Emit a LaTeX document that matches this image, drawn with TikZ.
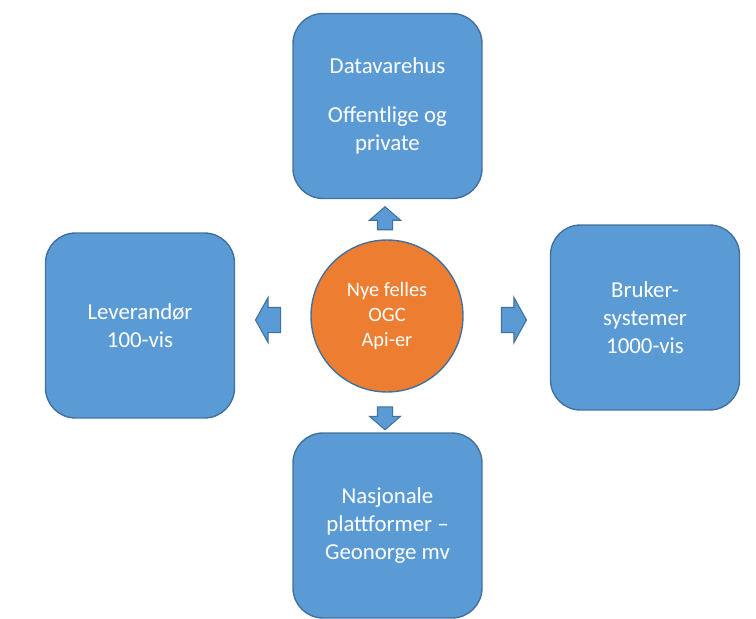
\documentclass[tikz,border=0pt]{standalone}
\usepackage{fontspec}
\setmainfont{Carlito}
\usetikzlibrary{shapes.arrows, positioning}

\definecolor{blaa}{HTML}{5B9BD5}
\definecolor{blaakant}{HTML}{41719C}
\definecolor{oransje}{HTML}{ED7D31}

\tikzset{
	blokk/.style={rectangle, rounded corners=0.6cm, fill=blaa, draw=blaakant, line width=0.8pt,
		minimum width=3.78cm, minimum height=3.7cm, text=white, align=center,
		font=\fontsize{13}{16}\selectfont},
	senter/.style={circle, fill=oransje, draw=blaakant, line width=0.8pt, minimum size=3.04cm,
		inner sep=0pt, text=white, align=center, font=\fontsize{11.6}{14.2}\selectfont},
	pilv/.style={single arrow, fill=blaa, draw=blaakant, line width=0.6pt, inner sep=0.14cm,
		minimum height=0.46cm, single arrow head extend=0.16cm,
		single arrow tip angle=98},
	pilh/.style={single arrow, fill=blaa, draw=blaakant, line width=0.6pt, inner xsep=0pt,
		inner ysep=0.24cm, minimum height=0.5cm, single arrow head extend=0.2cm,
		single arrow tip angle=122}
}

\begin{document}
\begin{tikzpicture}[x=0.02cm, y=-0.02cm]
	\useasboundingbox (0,0) rectangle (756,618);
	\node[senter] (api) at (387,316) {Nye felles\\OGC\\Api-er};
	\node[blokk] (lager) at (387.5,106) {Datavarehus\\[12pt]Offentlige og\\private};
	\node[blokk] (lev) at (140,325.5) {Leverand\o r\\100-vis};
	\node[blokk] (bruker) at (645,317.5) {Bruker-\\systemer\\1000-vis};
	\node[blokk] (plattform) at (387.5,525.5) {Nasjonale\\plattformer --\\Geonorge mv};
	
	\node[pilv, shape border rotate=90] (opp) at (385,221.5) {};
	\node[pilv, shape border rotate=270] (ned) at (385,415) {};
	\node[pilh, shape border rotate=180] (venstre) at (271.5,320) {};
	\node[pilh] (hoyre) at (510.5,320) {};
\end{tikzpicture}
\end{document}
